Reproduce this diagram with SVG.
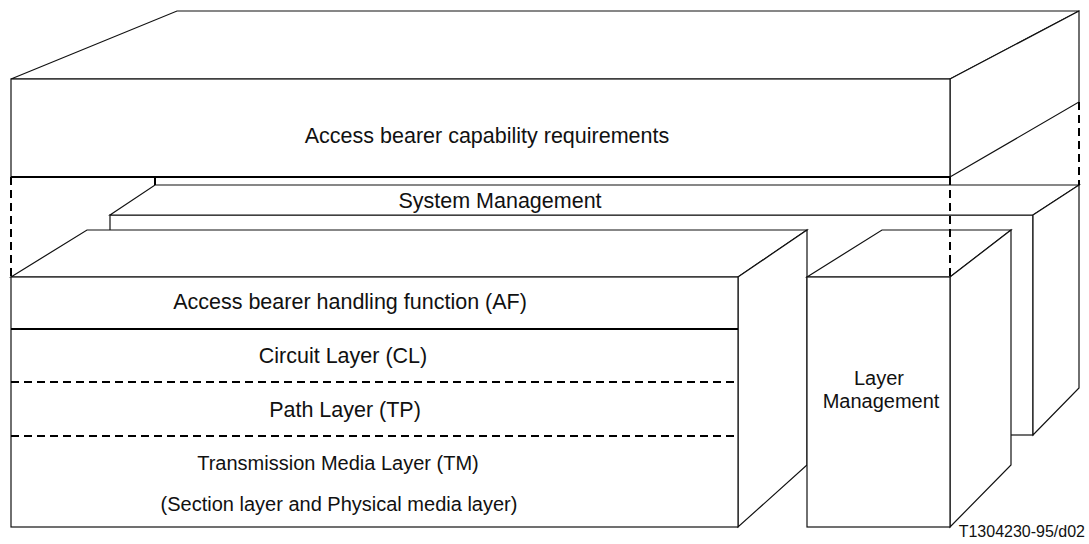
<svg xmlns="http://www.w3.org/2000/svg" width="1089" height="544" viewBox="0 0 1089 544">
  <style>
    .face { fill: #fff; stroke: #111; stroke-width: 1.2; stroke-linejoin: miter; }
    .ln { fill: none; stroke: #111; stroke-width: 1.2; }
    .thick { fill: none; stroke: #000; stroke-width: 2; }
    .dash { fill: none; stroke: #000; stroke-width: 2; stroke-dasharray: 8 5; }
    text { font-family: "Liberation Sans", Arial, sans-serif; fill: #111; text-anchor: middle; }
    .big { font-size: 21.5px; }
    .mid { font-size: 20px; }
    .small { font-size: 16px; }
  </style>
  <rect width="1089" height="544" fill="#fff"/>

  <g id="access-bearer-capability-requirements">
    <polygon class="face" points="11,79 177,11 1079,11 950,79"/>
    <polygon class="face" points="950,79 1079,11 1079,102 950,177"/>
    <rect class="face" x="11" y="79" width="939" height="98"/>
    <line class="thick" x1="11" y1="177" x2="950" y2="177"/>
    <text class="big" x="487" y="143">Access bearer capability requirements</text>
  </g>

  <g id="system-management">
    <rect class="face" x="110" y="215" width="923" height="220"/>
    <polygon class="face" points="110,215 155,185 1079,185 1033,215"/>
    <polygon class="face" points="1033,215 1079,185 1079,388 1033,435"/>
    <line class="thick" x1="155" y1="177" x2="155" y2="185"/>
    <text class="big" x="500" y="208">System Management</text>
  </g>

  <g id="access-bearer-handling-function">
    <polygon class="face" points="11,277 87,230 807,230 738,277"/>
    <polygon class="face" points="738,277 807,230 807,465 738,527"/>
    <rect class="face" x="11" y="277" width="727" height="250"/>
    <line class="thick" x1="11" y1="329" x2="738" y2="329"/>
    <text class="big" x="350" y="309">Access bearer handling function (AF)</text>
  </g>

  <g id="circuit-layer">
    <text class="big" x="343" y="363">Circuit Layer (CL)</text>
  </g>

  <g id="path-layer">
    <text class="big" x="345" y="417">Path Layer (TP)</text>
  </g>

  <g id="transmission-media-layer">
    <text class="mid" x="338" y="470">Transmission Media Layer (TM)</text>
    <text class="mid" x="339" y="511">(Section layer and Physical media layer)</text>
  </g>

  <g id="layer-management">
    <polygon class="face" points="807,277 882,230 1011,230 950,277"/>
    <polygon class="face" points="950,277 1011,230 1011,465 950,527"/>
    <rect class="face" x="807" y="277" width="143" height="250"/>
    <text class="mid" x="879" y="385">Layer</text>
    <text class="mid" x="881" y="408">Management</text>
  </g>

  <g id="connectors">
    <line class="dash" x1="11" y1="177" x2="11" y2="277"/>
    <line class="dash" x1="950" y1="177" x2="950" y2="277"/>
    <line class="dash" x1="1079" y1="102" x2="1079" y2="185"/>
    <line class="dash" x1="11" y1="382" x2="738" y2="382"/>
    <line class="dash" x1="11" y1="436" x2="738" y2="436"/>
  </g>

  <text class="small" x="1085" y="537" style="text-anchor:end">T1304230-95/d02</text>
</svg>
